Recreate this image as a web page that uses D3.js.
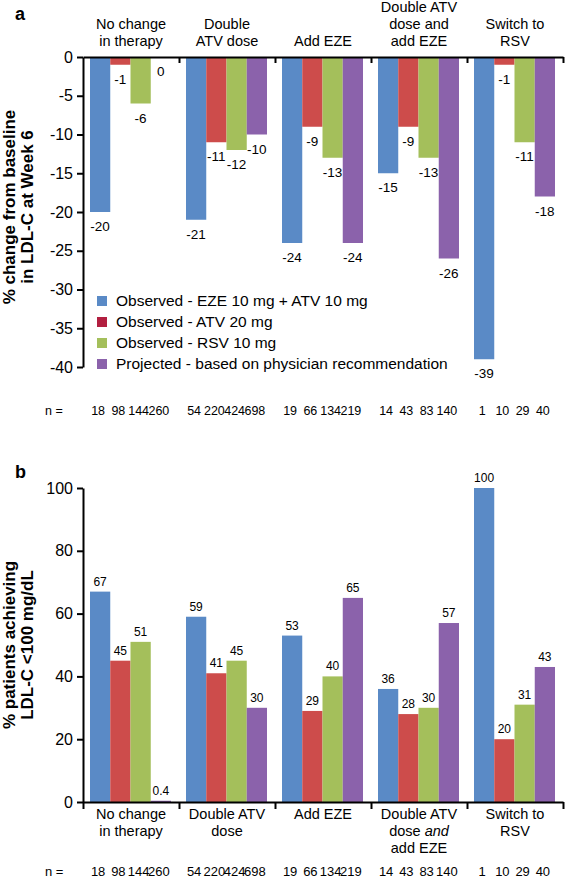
<!DOCTYPE html>
<html>
<head>
<meta charset="utf-8">
<script src="https://cdn.jsdelivr.net/npm/d3@7"></script>
<style>
  body { margin: 0; background: #fff; }
  svg { font-family: "Liberation Sans", Arial, sans-serif; }
</style>
</head>
<body>
<script>
// categories
var catsA = [["No change", "in therapy"], ["Double", "ATV dose"], ["Add EZE"], ["Double ATV", "dose and", "add EZE"], ["Switch to", "RSV"]];
var catsB = [["No change", "in therapy"], ["Double ATV", "dose"], ["Add EZE"], ["Double ATV", "dose |and|", "add EZE"], ["Switch to", "RSV"]];
var seriesNames = ["Observed - EZE 10 mg + ATV 10 mg", "Observed - ATV 20 mg", "Observed - RSV 10 mg", "Projected - based on physician recommendation"];

// panel a: % change from baseline
var changeEze = [-20, -21, -24, -15, -39];
var changeAtv = [-1, -11, -9, -9, -1];
var changeRsv = [-6, -12, -13, -13, -11];
var changeProj = [0, -10, -24, -26, -18];

// panel b: % achieving LDL-C < 100
var goalEze = [67, 59, 53, 36, 100];
var goalAtv = [45, 41, 29, 28, 20];
var goalRsv = [51, 45, 40, 30, 31];
var goalProj = [0.4, 30, 65, 57, 43];

// patients per bar
var nEze = [18, 54, 19, 14, 1];
var nAtv = [98, 220, 66, 43, 10];
var nRsv = [144, 424, 134, 83, 29];
var nProj = [260, 698, 219, 140, 40];

var ticksA = [0, -5, -10, -15, -20, -25, -30, -35, -40];
var ticksB = [0, 20, 40, 60, 80, 100];

var colors = ["#5a8ac6", "#cd4c4b", "#a4bf5b", "#8b62ab"];
var legendColors = ["#5a8ac6", "#b21f40", "#a4bf5b", "#8b62ab"];

var W = 567, H = 882;
var svg = d3.select("body").append("svg").attr("width", W).attr("height", H);

var xg = d3.scaleBand().domain(d3.range(5)).range([83, 563]);
var xs = d3.scaleBand().domain(d3.range(4)).range([7, 88]);
var xb = d3.scaleLinear().domain([0, 5]).range([83, 563]);

function rows(a, b, c, d) {
  var out = [];
  [a, b, c, d].forEach(function (arr, si) {
    arr.forEach(function (v, gi) { out.push({ g: gi, s: si, v: v }); });
  });
  return out;
}

// ---------- panel a ----------
var yA = d3.scaleLinear().domain([-40, 0]).range([367, 57]);
var gA = svg.append("g");

gA.selectAll("rect").data(rows(changeEze, changeAtv, changeRsv, changeProj)).enter()
  .append("rect")
  .attr("x", function (d) { return xg(d.g) + xs(d.s); })
  .attr("width", xs.bandwidth())
  .attr("y", yA(0))
  .attr("height", function (d) { return yA(d.v) - yA(0); })
  .attr("fill", function (d) { return colors[d.s]; });

gA.selectAll("text.val").data(rows(changeEze, changeAtv, changeRsv, changeProj)).enter()
  .append("text").attr("class", "val")
  .attr("x", function (d) { return xg(d.g) + xs(d.s) + xs.bandwidth() / 2; })
  .attr("y", function (d) { return yA(d.v) + 19; })
  .attr("text-anchor", "middle").attr("font-size", 13.5)
  .text(function (d) { return String(d.v); });

gA.append("g").attr("transform", "translate(83,0)")
  .call(d3.axisLeft(yA).tickValues(ticksA).tickFormat(function (d) { return String(d); }).tickSize(6).tickSizeOuter(0).tickPadding(4))
  .call(function (g) {
    g.selectAll("text").attr("font-size", 16).attr("font-family", "Liberation Sans, Arial, sans-serif").attr("fill", "#000");
    g.selectAll("line,path").attr("stroke", "#000").attr("stroke-width", 2);
  });

gA.append("g").attr("transform", "translate(0," + yA(0) + ")")
  .call(d3.axisBottom(xb).tickValues([1, 2, 3, 4, 5]).tickFormat("").tickSize(6).tickSizeOuter(0))
  .call(function (g) { g.selectAll("line,path").attr("stroke", "#000").attr("stroke-width", 2); });

catsA.forEach(function (lines, gi) {
  lines.forEach(function (t, li) {
    gA.append("text")
      .attr("x", xg(gi) + xg.bandwidth() / 2)
      .attr("y", 46 - (lines.length - 1 - li) * 17)
      .attr("text-anchor", "middle").attr("font-size", 14.5)
      .text(t);
  });
});

var leg = gA.append("g");
seriesNames.forEach(function (name, i) {
  var cy = 301 + i * 21;
  leg.append("rect").attr("x", 97).attr("y", cy - 5).attr("width", 10).attr("height", 10).attr("fill", legendColors[i]);
  leg.append("text").attr("x", 116).attr("y", cy + 5).attr("font-size", 15.5).text(name);
});

function nRow(g, y, size) {
  g.append("text").attr("x", 45).attr("y", y).attr("font-size", size).text("n =");
  g.selectAll("text.n").data(rows(nEze, nAtv, nRsv, nProj)).enter()
    .append("text").attr("class", "n")
    .attr("x", function (d) { return xg(d.g) + xs(d.s) + xs.bandwidth() / 2 - 2; })
    .attr("y", y)
    .attr("text-anchor", "middle").attr("font-size", size)
    .text(function (d) { return d.v; });
}
nRow(gA, 415, 12.5);

gA.append("text").attr("x", 15).attr("y", 20).attr("font-size", 18).attr("font-weight", "bold").text("a");

var labA = gA.append("text").attr("transform", "translate(15,207) rotate(-90)")
  .attr("text-anchor", "middle").attr("font-size", 17).attr("font-weight", "bold");
labA.append("tspan").attr("x", 0).attr("dy", 0).text("% change from baseline");
labA.append("tspan").attr("x", 0).attr("dy", 18).text("in LDL-C at Week 6");

// ---------- panel b ----------
var yB = d3.scaleLinear().domain([0, 100]).range([802, 488]);
var gB = svg.append("g");

gB.selectAll("rect").data(rows(goalEze, goalAtv, goalRsv, goalProj)).enter()
  .append("rect")
  .attr("x", function (d) { return xg(d.g) + xs(d.s); })
  .attr("width", xs.bandwidth())
  .attr("y", function (d) { return yB(d.v); })
  .attr("height", function (d) { return Math.max(yB(0) - yB(d.v), 1.5); })
  .attr("fill", function (d) { return colors[d.s]; });

gB.selectAll("text.val").data(rows(goalEze, goalAtv, goalRsv, goalProj)).enter()
  .append("text").attr("class", "val")
  .attr("x", function (d) { return xg(d.g) + xs(d.s) + xs.bandwidth() / 2; })
  .attr("y", function (d) { return yB(d.v) - 6; })
  .attr("text-anchor", "middle").attr("font-size", 12)
  .text(function (d) { return String(d.v); });

gB.append("g").attr("transform", "translate(83,0)")
  .call(d3.axisLeft(yB).tickValues(ticksB).tickFormat(function (d) { return String(d); }).tickSize(6).tickSizeOuter(0).tickPadding(4))
  .call(function (g) {
    g.selectAll("text").attr("font-size", 16).attr("font-family", "Liberation Sans, Arial, sans-serif").attr("fill", "#000");
    g.selectAll("line,path").attr("stroke", "#000").attr("stroke-width", 2);
  });

gB.append("g").attr("transform", "translate(0," + yB(0) + ")")
  .call(d3.axisBottom(xb).tickValues([0, 1, 2, 3, 4, 5]).tickFormat("").tickSize(7).tickSizeOuter(0))
  .call(function (g) { g.selectAll("line,path").attr("stroke", "#000").attr("stroke-width", 2); });

catsB.forEach(function (lines, gi) {
  lines.forEach(function (t, li) {
    var txt = gB.append("text")
      .attr("x", xg(gi) + xg.bandwidth() / 2)
      .attr("y", 819 + li * 17)
      .attr("text-anchor", "middle").attr("font-size", 14.5);
    t.split("|").forEach(function (part, pi) {
      txt.append("tspan").attr("font-style", pi === 1 ? "italic" : null).text(part);
    });
  });
});

nRow(gB, 876, 13);

gB.append("text").attr("x", 15).attr("y", 478).attr("font-size", 18).attr("font-weight", "bold").text("b");

var labB = gB.append("text").attr("transform", "translate(15,645) rotate(-90)")
  .attr("text-anchor", "middle").attr("font-size", 17).attr("font-weight", "bold");
labB.append("tspan").attr("x", 0).attr("dy", 0).text("% patients achieving");
labB.append("tspan").attr("x", 0).attr("dy", 18).text("LDL-C <100 mg/dL");
</script>
</body>
</html>
